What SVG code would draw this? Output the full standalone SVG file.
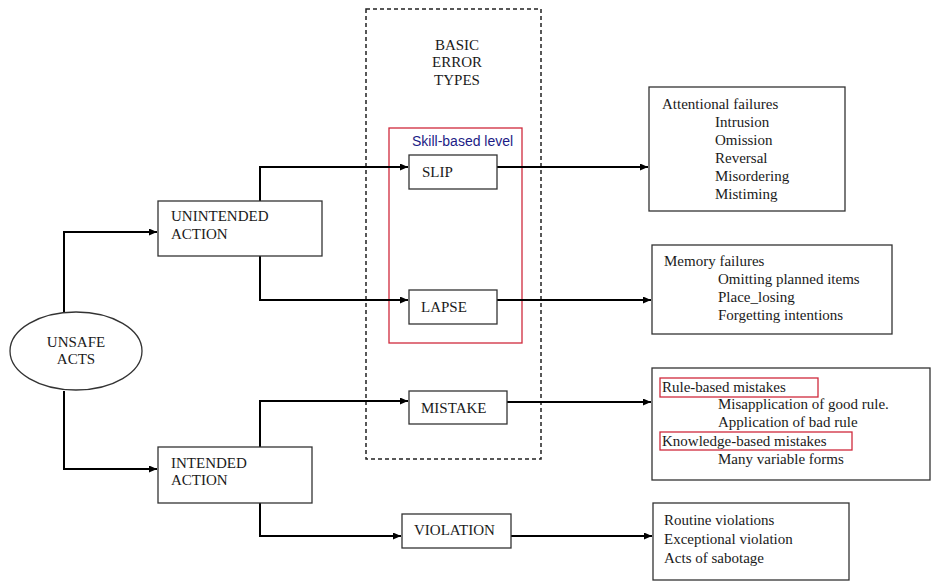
<svg xmlns="http://www.w3.org/2000/svg" width="932" height="582" viewBox="0 0 932 582">
<style>
text{font-family:"Liberation Serif","Times New Roman",serif;font-size:15px;fill:#1a1a1a}
.box{fill:#fff;stroke:#333;stroke-width:1.3}
.red{fill:none;stroke:#d02a3c;stroke-width:1.3}
.con{fill:none;stroke:#000;stroke-width:2}
.blue{font-family:"Liberation Sans",Arial,sans-serif;font-size:14px;fill:#1c1c86}
.mid{text-anchor:middle}
</style>
<defs>
<marker id="arr" viewBox="0 0 10 10" refX="10" refY="5" markerWidth="8" markerHeight="7" orient="auto" markerUnits="userSpaceOnUse" preserveAspectRatio="none">
<path d="M0,0 L10,5 L0,10 z" fill="#000"/>
</marker>
</defs>
<rect width="932" height="582" fill="#fff"/>

<g id="basic-error-types">
<rect x="366" y="9" width="175" height="450" fill="none" stroke="#222" stroke-width="1.5" stroke-dasharray="4,3"/>
<text x="457" y="50" class="mid">BASIC</text>
<text x="457" y="67" class="mid">ERROR</text>
<text x="457" y="85" class="mid">TYPES</text>
</g>

<g id="skill-based">
<rect x="389" y="128" width="133" height="215" class="red"/>
<text x="412" y="146" class="blue">Skill-based level</text>
</g>

<g id="connectors">
<path class="con" d="M64,312 V232 H157" marker-end="url(#arr)"/>
<path class="con" d="M64,391 V469 H157" marker-end="url(#arr)"/>
<path class="con" d="M260,201 V167 H408" marker-end="url(#arr)"/>
<path class="con" d="M260,256 V300 H408" marker-end="url(#arr)"/>
<path class="con" d="M260,447 V401 H408" marker-end="url(#arr)"/>
<path class="con" d="M260,503 V536 H401" marker-end="url(#arr)"/>
<path class="con" d="M497,167 H648" marker-end="url(#arr)"/>
<path class="con" d="M497,300 H651" marker-end="url(#arr)"/>
<path class="con" d="M507,402 H651" marker-end="url(#arr)"/>
<path class="con" d="M511,536 H652" marker-end="url(#arr)"/>
</g>

<g id="unsafe-acts">
<ellipse cx="76" cy="351" rx="66" ry="39" class="box"/>
<text x="76" y="347" class="mid">UNSAFE</text>
<text x="76" y="364" class="mid">ACTS</text>
</g>

<g id="unintended-action">
<rect x="158" y="201" width="164" height="55" class="box"/>
<text x="171" y="221">UNINTENDED</text>
<text x="171" y="239">ACTION</text>
</g>

<g id="intended-action">
<rect x="158" y="447" width="154" height="56" class="box"/>
<text x="171" y="468">INTENDED</text>
<text x="171" y="485">ACTION</text>
</g>

<g id="slip">
<rect x="409" y="155" width="88" height="34" class="box"/>
<text x="422" y="177">SLIP</text>
</g>

<g id="lapse">
<rect x="409" y="290" width="88" height="34" class="box"/>
<text x="421" y="312">LAPSE</text>
</g>

<g id="mistake">
<rect x="409" y="391" width="98" height="33" class="box"/>
<text x="421" y="413">MISTAKE</text>
</g>

<g id="violation">
<rect x="402" y="514" width="109" height="34" class="box"/>
<text x="414" y="535">VIOLATION</text>
</g>

<g id="attentional-failures">
<rect x="649" y="87" width="196" height="124" class="box"/>
<text x="662" y="109">Attentional failures</text>
<text x="715" y="127">Intrusion</text>
<text x="715" y="145">Omission</text>
<text x="715" y="163">Reversal</text>
<text x="715" y="181">Misordering</text>
<text x="715" y="199">Mistiming</text>
</g>

<g id="memory-failures">
<rect x="652" y="245" width="240" height="89" class="box"/>
<text x="664" y="266">Memory failures</text>
<text x="718" y="284">Omitting planned items</text>
<text x="718" y="302">Place_losing</text>
<text x="718" y="320">Forgetting intentions</text>
</g>

<g id="mistake-types">
<rect x="652" y="368" width="278" height="112" class="box"/>
<rect x="660" y="378" width="158" height="19" class="red"/>
<text x="662" y="392">Rule-based mistakes</text>
<text x="718" y="409">Misapplication of good rule.</text>
<text x="718" y="427">Application of bad rule</text>
<rect x="660" y="432" width="192" height="18" class="red"/>
<text x="662" y="446">Knowledge-based mistakes</text>
<text x="718" y="464">Many variable forms</text>
</g>

<g id="violation-types">
<rect x="653" y="503" width="196" height="77" class="box"/>
<text x="664" y="525">Routine violations</text>
<text x="664" y="544">Exceptional violation</text>
<text x="664" y="563">Acts of sabotage</text>
</g>
</svg>
